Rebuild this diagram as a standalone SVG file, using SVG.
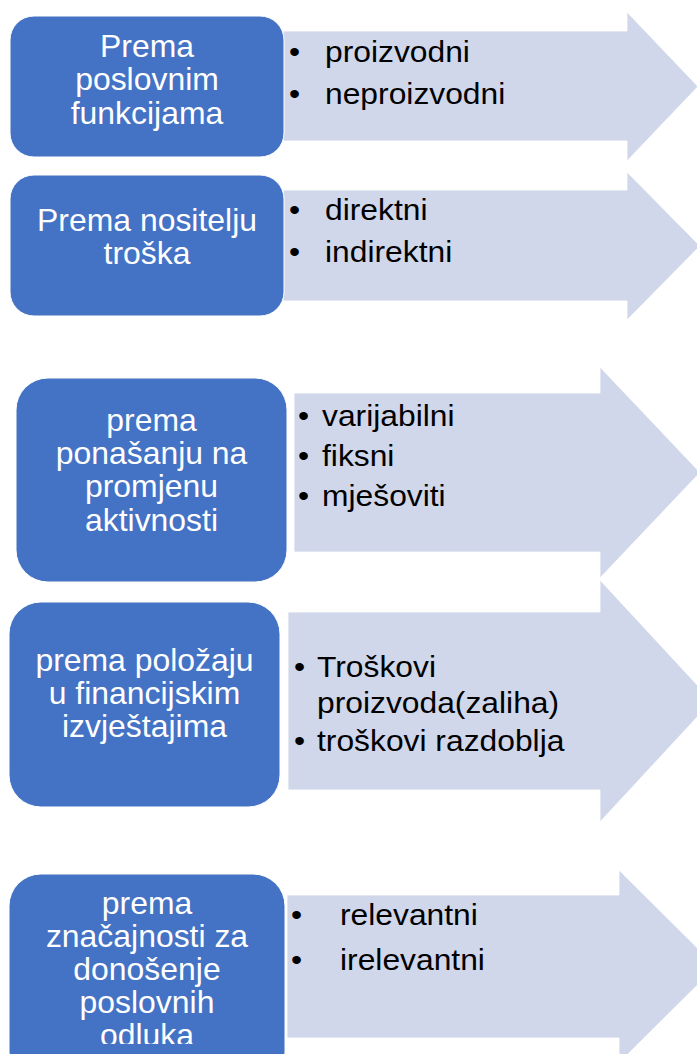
<svg xmlns="http://www.w3.org/2000/svg" width="697" height="1054" viewBox="0 0 697 1054">
<style>
.arrow{fill:#D0D7EA;stroke:#ffffff;stroke-width:0.8}
.box{fill:#4472C4;stroke:#ffffff;stroke-width:1}
.lt{font-family:"Liberation Sans",Arial,sans-serif;font-size:31px;fill:#ffffff;text-anchor:middle}
.rt{font-family:"Liberation Sans",Arial,sans-serif;font-size:30px;fill:#000000}
</style>
<defs>
<clipPath id="clip5"><rect x="-200" y="860" width="400" height="184"/></clipPath>
</defs>
<rect width="697" height="1054" fill="#ffffff"/>

<g id="row1">
<path class="arrow" d="M283,31 H627 V12 L698,86.5 L627,161 V141 H283 Z"/>
<rect class="box" x="10" y="16" width="274" height="141" rx="24"/>
<text class="lt" transform="translate(147 0) scale(1.03 1)"><tspan x="0" y="57">Prema</tspan><tspan x="0" y="90.5">poslovnim</tspan><tspan x="0" y="124">funkcijama</tspan></text>
<text class="rt" transform="translate(325 0) scale(1.06 1)"><tspan x="-34" y="62">•</tspan><tspan x="0" y="62">proizvodni</tspan><tspan x="-34" y="104">•</tspan><tspan x="0" y="104">neproizvodni</tspan></text>
</g>

<g id="row2">
<path class="arrow" d="M283,190 H627 V172 L700,246 L627,320 V301 H283 Z"/>
<rect class="box" x="10" y="175" width="274" height="141" rx="24"/>
<text class="lt" transform="translate(147 0) scale(1.03 1)"><tspan x="0" y="231">Prema nositelju</tspan><tspan x="0" y="264">troška</tspan></text>
<text class="rt" transform="translate(325 0) scale(1.06 1)"><tspan x="-34" y="220">•</tspan><tspan x="0" y="220">direktni</tspan><tspan x="-34" y="262">•</tspan><tspan x="0" y="262">indirektni</tspan></text>
</g>

<g id="row3">
<path class="arrow" d="M294,393 H600 V367 L700,472.5 L600,578 V552 H294 Z"/>
<rect class="box" x="16" y="378" width="271" height="204" rx="32"/>
<text class="lt" transform="translate(151.5 0) scale(1.03 1)"><tspan x="0" y="431">prema</tspan><tspan x="0" y="464">ponašanju na</tspan><tspan x="0" y="497.5">promjenu</tspan><tspan x="0" y="531">aktivnosti</tspan></text>
<text class="rt" transform="translate(322 0) scale(1.06 1)"><tspan x="-22.6" y="426">•</tspan><tspan x="0" y="426">varijabilni</tspan><tspan x="-22.6" y="466">•</tspan><tspan x="0" y="466">fiksni</tspan><tspan x="-22.6" y="506">•</tspan><tspan x="0" y="506">mješoviti</tspan></text>
</g>

<g id="row4">
<path class="arrow" d="M288,612 H600 V580 L712,701 L600,822 V790 H288 Z"/>
<rect class="box" x="9" y="602" width="271" height="205" rx="32"/>
<text class="lt" transform="translate(144.5 0) scale(1.03 1)"><tspan x="0" y="671">prema položaju</tspan><tspan x="0" y="704">u financijskim</tspan><tspan x="0" y="737">izvještajima</tspan></text>
<text class="rt" transform="translate(317 0) scale(1.06 1)"><tspan x="-21.7" y="677">•</tspan><tspan x="0" y="677">Troškovi</tspan><tspan x="0" y="713">proizvoda(zaliha)</tspan><tspan x="-21.7" y="751">•</tspan><tspan x="0" y="751">troškovi razdoblja</tspan></text>
</g>

<g id="row5">
<path class="arrow" d="M287,895 H619 V870 L716,966.5 L619,1063 V1038 H287 Z"/>
<rect class="box" x="9" y="874" width="276" height="210" rx="32"/>
<text class="lt" transform="translate(147 0) scale(1.03 1)" clip-path="url(#clip5)"><tspan x="0" y="914">prema</tspan><tspan x="0" y="947">značajnosti za</tspan><tspan x="0" y="980">donošenje</tspan><tspan x="0" y="1013">poslovnih</tspan><tspan x="0" y="1046">odluka</tspan></text>
<text class="rt" transform="translate(340 0) scale(1.06 1)"><tspan x="-46.2" y="925">•</tspan><tspan x="0" y="925">relevantni</tspan><tspan x="-46.2" y="970">•</tspan><tspan x="0" y="970">irelevantni</tspan></text>
</g>
</svg>
